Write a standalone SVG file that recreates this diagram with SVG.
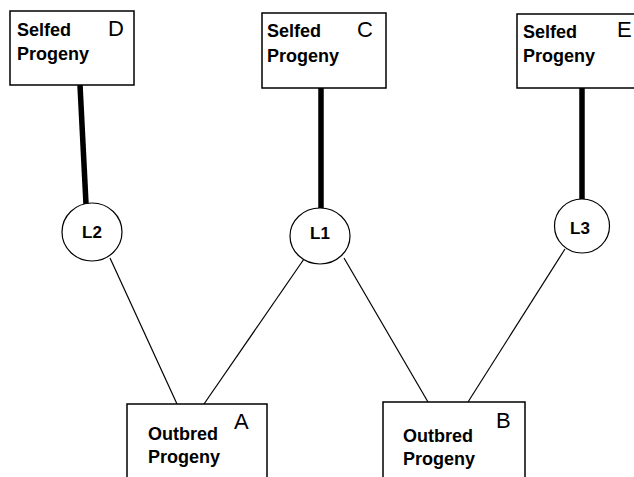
<svg xmlns="http://www.w3.org/2000/svg" width="634" height="477" viewBox="0 0 634 477">
<style>
.box{fill:#fff;stroke:#000;stroke-width:1.5}
.node{fill:#fff;stroke:#000;stroke-width:1.2}
.lbl{font-family:"Liberation Sans",Arial,sans-serif;font-weight:bold;font-size:18px;fill:#000}
.let{font-family:"Liberation Sans",Arial,sans-serif;font-size:22px;fill:#000}
.cl{font-family:"Liberation Sans",Arial,sans-serif;font-weight:bold;font-size:17px;fill:#000;text-anchor:middle}
.thin{stroke:#000;stroke-width:1.2;fill:none}
.thick{stroke:#000;stroke-width:5.5;fill:none}
</style>
<rect width="634" height="477" fill="#fff"/>
<g id="connectors">
<line class="thick" x1="80" y1="85" x2="86" y2="204"/>
<line class="thick" x1="321" y1="88" x2="321" y2="208"/>
<line class="thick" x1="582" y1="88" x2="582" y2="199"/>
<line class="thin" x1="110" y1="258" x2="177" y2="404"/>
<line class="thin" x1="304" y1="259" x2="204" y2="404"/>
<line class="thin" x1="344" y1="258" x2="428" y2="402"/>
<line class="thin" x1="565" y1="249" x2="468" y2="402"/>
</g>
<g id="nodeD">
<rect class="box" x="10" y="11" width="124" height="74"/>
<text class="lbl" x="17" y="36">Selfed</text>
<text class="lbl" x="17" y="60">Progeny</text>
<text class="let" x="108" y="36">D</text>
</g>
<g id="nodeC">
<rect class="box" x="262" y="13" width="124" height="75"/>
<text class="lbl" x="267" y="37">Selfed</text>
<text class="lbl" x="267" y="62">Progeny</text>
<text class="let" x="357" y="37">C</text>
</g>
<g id="nodeE">
<rect class="box" x="517" y="14" width="130" height="74"/>
<text class="lbl" x="523" y="38">Selfed</text>
<text class="lbl" x="523" y="62">Progeny</text>
<text class="let" x="617" y="37">E</text>
</g>
<g id="nodeL2">
<ellipse class="node" cx="92" cy="232" rx="30" ry="29"/>
<text class="cl" x="92" y="238">L2</text>
</g>
<g id="nodeL1">
<ellipse class="node" cx="320" cy="236" rx="30" ry="28"/>
<text class="cl" x="320" y="239">L1</text>
</g>
<g id="nodeL3">
<ellipse class="node" cx="582" cy="226" rx="27.5" ry="27"/>
<text class="cl" x="580" y="234">L3</text>
</g>
<g id="nodeA">
<rect class="box" x="127" y="404" width="140" height="80"/>
<text class="lbl" x="148" y="440">Outbred</text>
<text class="lbl" x="148" y="463">Progeny</text>
<text class="let" x="234" y="429">A</text>
</g>
<g id="nodeB">
<rect class="box" x="383" y="402" width="142" height="82"/>
<text class="lbl" x="403" y="442">Outbred</text>
<text class="lbl" x="403" y="465">Progeny</text>
<text class="let" x="496" y="428">B</text>
</g>
</svg>
